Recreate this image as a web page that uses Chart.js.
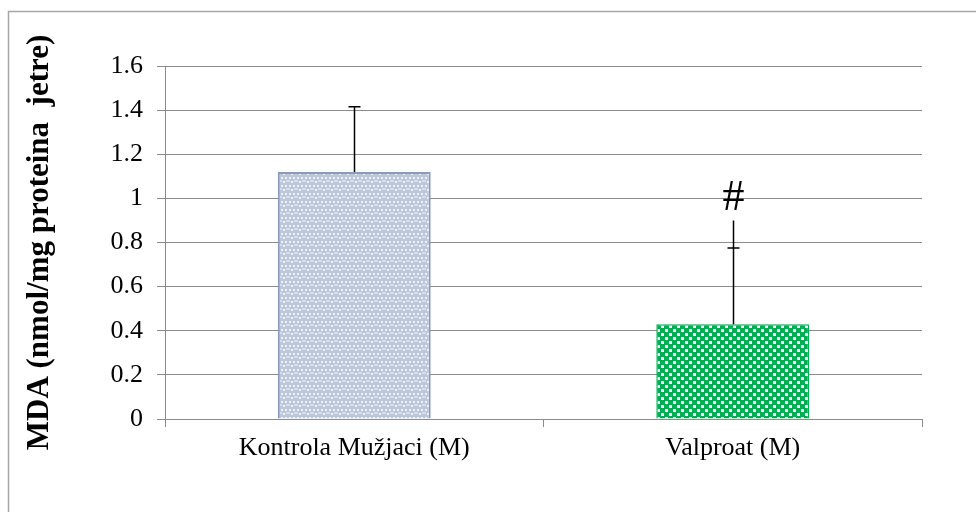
<!DOCTYPE html>
<html>
<head>
<meta charset="utf-8">
<script src="https://cdn.jsdelivr.net/npm/chart.js@4/dist/chart.umd.min.js"></script>
<style>
  html, body { margin: 0; padding: 0; background: #fff; }
  #wrap { position: relative; width: 976px; height: 512px; }
</style>
</head>
<body>
<div id="wrap"><canvas id="chart" width="976" height="512"></canvas></div>
<script>
// ─── Data ─────────────────────────────────────────────────────────────────────
const categories = ['Kontrola Mužjaci (M)', 'Valproat (M)'];
const means      = [1.12, 0.43];
const errUpper   = [1.415, 0.775];   // cap of the SD whisker
const whiskerTop = [null, 0.90];     // Valproat whisker continues past its cap
const marks      = ['', '#'];
const markAt     = [null, 1.0];
const yMin = 0, yMax = 1.6, yStep = 0.2;
const yTitle = 'MDA (nmol/mg proteina  jetre)';

// ─── Fill patterns ────────────────────────────────────────────────────────────
function makePattern(draw, size) {
  const c = document.createElement('canvas');
  c.width = size; c.height = size;
  draw(c.getContext('2d'));
  return c.getContext('2d').createPattern(c, 'repeat');
}

const bluePattern = makePattern(g => {
  g.fillStyle = '#bcc7dc';
  g.fillRect(0, 0, 8, 8);
  g.fillStyle = '#eef1f7';
  g.fillRect(1, 1, 2, 2);
  g.fillRect(5, 1, 2, 2);
  g.fillRect(3, 5, 2, 2);
  g.fillStyle = '#d6dde9';
  g.fillRect(0, 4, 2, 2);
  g.fillRect(6, 4, 2, 2);
}, 8);

const greenPattern = makePattern(g => {
  g.fillStyle = '#00b050';
  g.fillRect(0, 0, 8, 8);
  g.fillStyle = '#ffffff';
  g.fillRect(1, 1, 3, 3);
  g.fillRect(5, 5, 3, 3);
}, 8);

// ─── Plugins ──────────────────────────────────────────────────────────────────
const frame = {
  id: 'frame',
  beforeDraw(chart) {
    const ctx = chart.ctx;
    ctx.save();
    ctx.strokeStyle = '#a6a6a6';
    ctx.lineWidth = 1.5;
    ctx.beginPath();
    ctx.moveTo(8.5, 512);
    ctx.lineTo(8.5, 11.5);
    ctx.lineTo(976, 11.5);
    ctx.stroke();
    ctx.restore();
  }
};

const errorBars = {
  id: 'errorBars',
  afterDatasetsDraw(chart) {
    const ctx = chart.ctx;
    const y = chart.scales.y;
    const meta = chart.getDatasetMeta(0);
    ctx.save();
    ctx.strokeStyle = '#000';
    ctx.lineWidth = 1.5;
    meta.data.forEach((bar, i) => {
      const x = Math.round(bar.x) + 0.5;
      const yBase = y.getPixelForValue(means[i]);
      const yCap = y.getPixelForValue(errUpper[i]);
      const yEnd = whiskerTop[i] != null ? y.getPixelForValue(whiskerTop[i]) : yCap;
      ctx.beginPath();
      ctx.moveTo(x, yBase);
      ctx.lineTo(x, Math.min(yCap, yEnd));
      ctx.moveTo(x - 6, yCap);
      ctx.lineTo(x + 6, yCap);
      ctx.stroke();

      if (marks[i]) {
        ctx.fillStyle = '#000';
        ctx.font = '44px "Liberation Serif", "Times New Roman", serif';
        ctx.textAlign = 'center';
        ctx.textBaseline = 'middle';
        ctx.fillText(marks[i], x, y.getPixelForValue(markAt[i]));
      }
    });
    ctx.restore();
  }
};

// ─── Chart ────────────────────────────────────────────────────────────────────
const serif = '"Liberation Serif", "Times New Roman", serif';

new Chart(document.getElementById('chart').getContext('2d'), {
  type: 'bar',
  data: {
    labels: categories,
    datasets: [{
      data: means,
      backgroundColor: [bluePattern, greenPattern],
      borderColor: ['#8a9cbc', '#00b050'],
      borderWidth: [2, 1.5],
      categoryPercentage: 1,
      barPercentage: 0.404,
    }],
  },
  options: {
    responsive: false,
    animation: false,
    devicePixelRatio: 1,
    layout: { padding: { top: 66, right: 54, bottom: 0, left: 0 } },
    plugins: { legend: { display: false }, tooltip: { enabled: false } },
    scales: {
      x: {
        offset: true,
        grid: { display: true, offset: true, drawOnChartArea: false, drawTicks: true, tickLength: 8, color: '#8c8c8c', lineWidth: 1 },
        border: { display: false },
        ticks: { color: '#000', font: { family: serif, size: 26 }, padding: 6 },
        afterFit: s => { s.height = 93; },
      },
      y: {
        min: yMin, max: yMax,
        grid: { color: '#8c8c8c', lineWidth: 1, tickLength: 8 },
        border: { display: true, color: '#8c8c8c', width: 1 },
        ticks: {
          stepSize: yStep, color: '#000', font: { family: serif, size: 26 }, padding: 14,
          callback: v => String(+v.toFixed(1)),
        },
        title: {
          display: true,
          text: yTitle,
          color: '#000',
          font: { family: serif, size: 31, weight: 'bold' },
          padding: { top: 21, bottom: 0 },
        },
        afterFit: s => { s.width = 165; },
      },
    },
  },
  plugins: [frame, errorBars],
});
</script>
</body>
</html>
